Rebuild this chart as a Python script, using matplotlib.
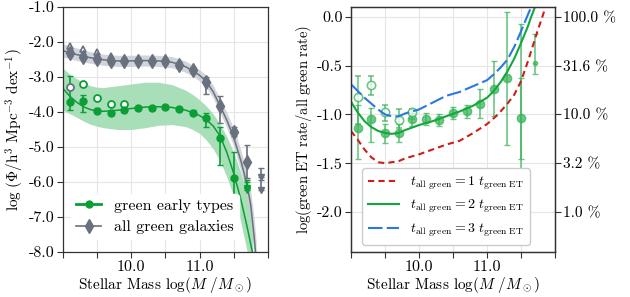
import numpy as np
import matplotlib
matplotlib.use("Agg")
import matplotlib.pyplot as plt
from matplotlib.lines import Line2D

plt.rcParams['font.family'] = 'serif'
plt.rcParams['font.serif'] = ['cmr10', 'DejaVu Serif']
plt.rcParams['mathtext.fontset'] = 'cm'
plt.rcParams['axes.unicode_minus'] = False
plt.rcParams['font.size'] = 10

# ---- left panel: mass functions ----
mass = [9.1, 9.3, 9.5, 9.7, 9.9, 10.1, 10.3, 10.5, 10.7, 10.9, 11.1, 11.3, 11.5, 11.7]
all_phi = [-2.32, -2.42, -2.49, -2.54, -2.54, -2.53, -2.53, -2.55, -2.65, -2.80, -3.13, -3.84, -4.56, -5.42]
all_lo = [-2.40, -2.50, -2.57, -2.62, -2.61, -2.60, -2.60, -2.63, -2.74, -2.90, -3.48, -4.32, -4.68, -5.90]
all_hi = [-2.24, -2.34, -2.41, -2.46, -2.47, -2.46, -2.46, -2.48, -2.57, -2.71, -3.01, -3.55, -4.42, -4.94]
all_open_m = [9.1, 9.3, 9.5, 9.7]
all_open_phi = [-2.11, -2.20, -2.29, -2.39]
all_lim_m = [11.9, 11.9]
all_lim_top = [-5.61, -5.94]
all_lim_bot = [-5.85, -6.23]

et_phi = [-3.72, -3.70, -3.96, -4.02, -3.94, -3.88, -3.89, -3.85, -3.92, -4.02, -4.18, -4.75, -5.89]
et_lo = [-3.94, -4.00, -4.03, -4.08, -4.00, -3.94, -3.95, -3.91, -3.98, -4.09, -4.42, -5.51, -7.37]
et_hi = [-2.96, -3.52, -3.89, -3.96, -3.88, -3.82, -3.83, -3.79, -3.86, -3.95, -4.03, -4.43, -5.13]
et_open_m = [9.1, 9.3, 9.5, 9.7, 9.9]
et_open_phi = [-3.28, -3.21, -3.61, -3.77, -3.77]
et_lim_m = [11.7, 11.7]
et_lim_top = [-5.94, -6.00]
et_lim_bot = [-6.18, -6.22]

fit_all_m = [9.0, 9.2, 9.4, 9.6, 9.8, 10.0, 10.2, 10.4, 10.6, 10.7, 10.8, 10.9, 11.0, 11.1, 11.2, 11.3,
             11.4, 11.5, 11.6, 11.65, 11.7, 11.75, 11.8, 11.83]
fit_all = [-2.25, -2.36, -2.45, -2.51, -2.54, -2.54, -2.53, -2.54, -2.58, -2.64, -2.71, -2.82, -2.95,
           -3.13, -3.42, -3.82, -4.23, -4.72, -5.35, -5.72, -6.12, -6.65, -7.55, -8.2]
fit_all_lo = [-2.43, -2.53, -2.61, -2.67, -2.70, -2.70, -2.69, -2.70, -2.74, -2.80, -2.87, -2.98, -3.11,
              -3.30, -3.60, -4.02, -4.45, -4.98, -5.65, -6.05, -6.50, -7.10, -8.1, -8.6]
fit_all_hi = [-2.05, -2.17, -2.28, -2.35, -2.38, -2.38, -2.37, -2.38, -2.42, -2.48, -2.55, -2.66, -2.79,
              -2.96, -3.24, -3.62, -4.01, -4.46, -5.05, -5.40, -5.78, -6.25, -7.05, -7.7]

fit_et_m = [9.0, 9.1, 9.2, 9.3, 9.4, 9.5, 9.6, 9.8, 10.0, 10.2, 10.4, 10.6, 10.8, 10.9, 11.0, 11.1,
            11.2, 11.3, 11.4, 11.5, 11.6, 11.7, 11.78]
fit_et = [-3.33, -3.55, -3.72, -3.85, -3.93, -3.97, -3.98, -3.95, -3.90, -3.86, -3.85, -3.87, -3.95,
          -4.02, -4.10, -4.22, -4.40, -4.68, -5.15, -5.75, -6.45, -7.30, -8.05]
fit_et_lo = [-3.95, -4.05, -4.15, -4.26, -4.35, -4.41, -4.45, -4.50, -4.50, -4.45, -4.38, -4.36, -4.42,
             -4.50, -4.61, -4.80, -5.05, -5.40, -5.85, -6.40, -7.10, -8.0, -8.6]
fit_et_hi = [-2.75, -2.92, -3.05, -3.16, -3.25, -3.29, -3.30, -3.25, -3.20, -3.15, -3.15, -3.22, -3.38,
             -3.50, -3.65, -3.83, -4.05, -4.35, -4.70, -5.15, -5.70, -6.40, -7.15]

# ---- right panel: rate ratios ----
r_mass = [9.1, 9.3, 9.5, 9.7, 9.9, 10.1, 10.3, 10.5, 10.7, 10.9, 11.1, 11.3, 11.5]
r_val = [-1.14, -1.05, -1.19, -1.19, -1.05, -1.05, -1.06, -0.99, -0.97, -0.89, -0.74, -0.63, -1.04]
r_lo = [-1.46, -1.28, -1.29, -1.28, -1.12, -1.11, -1.12, -1.05, -1.04, -1.04, -1.02, -1.31, -2.00]
r_hi = [-0.90, -0.93, -1.10, -1.10, -0.99, -0.99, -1.00, -0.92, -0.90, -0.74, -0.45, 0.05, -0.07]
r_open_m = [9.1, 9.3, 9.5, 9.7, 9.9]
r_open = [-0.82, -0.70, -0.98, -1.06, -0.98]
r_open_lo = [-1.10, -0.80, -1.07, -1.14, -1.05]
r_open_hi = [-0.61, -0.61, -0.90, -0.95, -0.94]
r_last_m = [11.7]
r_last = [-0.47]
r_last_lo = [-0.59]
r_last_hi = [-0.18]
r_extra_m = [11.5]
r_extra_lo = [-1.46]
r_extra_hi = [-0.63]

curve_m = [9.0, 9.1, 9.2, 9.3, 9.4, 9.5, 9.6, 9.7, 9.8, 10.0, 10.2, 10.4, 10.6, 10.8, 11.0, 11.1, 11.2,
           11.3, 11.4, 11.5, 11.6, 11.65, 11.7, 11.75, 11.8, 11.87]
curve_1 = [-1.17, -1.26, -1.36, -1.44, -1.49, -1.50, -1.49, -1.48, -1.45, -1.41, -1.36, -1.31, -1.27,
           -1.19, -1.10, -1.04, -0.97, -0.89, -0.80, -0.66, -0.46, -0.35, -0.24, -0.13, -0.03, 0.12]
curve_2 = [-0.87, -0.98, -1.07, -1.13, -1.17, -1.19, -1.20, -1.19, -1.16, -1.11, -1.07, -1.02, -0.97,
           -0.91, -0.83, -0.76, -0.67, -0.56, -0.43, -0.27, -0.10, 0.00, 0.09, 0.2, 0.3, 0.4]
curve_3 = [-0.69, -0.76, -0.83, -0.89, -0.95, -1.00, -1.02, -1.02, -0.99, -0.95, -0.88, -0.81, -0.77,
           -0.71, -0.65, -0.59, -0.52, -0.44, -0.31, -0.15, 0.02, 0.1, 0.2, 0.3, 0.4, 0.5]
pct_ticks = [0.0, -0.5, -1.0, -1.5, -2.0]
pct_labels = ['100.0 %', '31.6 %', '10.0 %', '3.2 %', '1.0 %']

green = '#0a9e35'
grey = '#68717d'
ptgreen = '#3cb55c'

fig = plt.figure(figsize=(6.3, 2.97), dpi=100)
ax1 = fig.add_axes([0.1, 0.1515, 0.325, 0.825])
ax2 = fig.add_axes([0.557, 0.1515, 0.324, 0.825])

for ax in (ax1, ax2):
    ax.set_xlim(9.0, 12.0)
    ax.set_xticks([9.0, 9.5, 10.0, 10.5, 11.0, 11.5, 12.0])
    ax.set_xticklabels(['', '', '10.0', '', '11.0', '', ''])
    ax.grid(True, color='#e6e6e6', lw=0.8)
    ax.set_axisbelow(True)
    for s in ax.spines.values():
        s.set_color('#333333')
        s.set_linewidth(0.9)
    ax.tick_params(direction='out', length=4, color='#333333', labelsize=11.5, pad=2)
    ax.set_xlabel(r'Stellar Mass $\log(M\ /M_\odot)$', fontsize=11, labelpad=1)

# left
ax1.fill_between(fit_et_m, fit_et_lo, fit_et_hi, color='#a8dfb8', lw=0, zorder=1)
ax1.fill_between(fit_all_m, fit_all_lo, fit_all_hi, color='#c9cdd4', alpha=0.85, lw=0, zorder=1.5)
ax1.plot(fit_et_m, fit_et, color=green, lw=1.1, zorder=2)
ax1.plot(fit_all_m, fit_all, color=grey, lw=1.1, zorder=2)

am = np.array(mass)
ap = np.array(all_phi)
ax1.errorbar(am, ap, yerr=[ap - np.array(all_lo), np.array(all_hi) - ap], fmt='d', color=grey,
             ms=7, capsize=2, lw=1.2, zorder=3)
ax1.plot(all_open_m, all_open_phi, '^', mfc='white', mec=grey, ms=5, mew=1.2, zorder=3)
for m, t, b in zip(all_lim_m, all_lim_top, all_lim_bot):
    ax1.errorbar([m], [t], yerr=[[t - b], [0]], fmt='none', color=grey, capsize=2, lw=1.2, zorder=3)
    ax1.plot([m], [b], 'v', color=grey, ms=5, zorder=3)

em = am[:len(et_phi)]
ep = np.array(et_phi)
ax1.errorbar(em, ep, yerr=[ep - np.array(et_lo), np.array(et_hi) - ep], fmt='o', color=green,
             ms=5, capsize=2, lw=1.2, zorder=4)
ax1.plot(et_open_m[:1], et_open_phi[:1], 'o', mfc='white', mec=grey, ms=5, mew=1.3, zorder=4)
ax1.plot(et_open_m[1:], et_open_phi[1:], 'o', mfc='white', mec=green, ms=5, mew=1.3, zorder=4)
for m, t, b in zip(et_lim_m, et_lim_top, et_lim_bot):
    ax1.errorbar([m], [t], yerr=[[t - b], [0]], fmt='none', color=green, capsize=2, lw=1.2, zorder=4)
    ax1.plot([m], [b], 'v', color=green, ms=5, zorder=4)

ax1.set_ylim(-8.0, -1.0)
ax1.set_yticks([-1, -2, -3, -4, -5, -6, -7, -8])
ax1.set_yticklabels(['-1.0', '-2.0', '-3.0', '-4.0', '-5.0', '-6.0', '-7.0', '-8.0'])
ax1.set_ylabel(r'$\log\,(\Phi/\mathrm{h}^3\ \mathrm{Mpc}^{-3}\ \mathrm{dex}^{-1})$', fontsize=11, labelpad=2)

h1 = Line2D([], [], color=green, marker='o', ms=5, lw=2)
h2 = Line2D([], [], color=grey, marker='d', ms=7, lw=1.2)
leg1 = ax1.legend([h1, h2], ['green early types', 'all green galaxies'], loc='lower left',
                  bbox_to_anchor=(0.0, 0.02), fontsize=11.5, frameon=True, framealpha=1,
                  handlelength=1.6, borderpad=0.3, labelspacing=0.45)
leg1.get_frame().set_edgecolor('white')

# right
rm = np.array(r_mass)
rv = np.array(r_val)
ax2.errorbar(rm, rv, yerr=[rv - np.array(r_lo), np.array(r_hi) - rv], fmt='o', color=ptgreen,
             alpha=0.75, ms=6, capsize=2, lw=1.2, zorder=3)
om = np.array(r_open_m)
ov = np.array(r_open)
ax2.errorbar(om, ov, yerr=[ov - np.array(r_open_lo), np.array(r_open_hi) - ov], fmt='o', color=ptgreen,
             mfc='white', alpha=0.75, ms=6, mew=1.2, capsize=2, lw=1.2, zorder=3)
lv = np.array(r_last)
ax2.errorbar(r_last_m, lv, yerr=[lv - np.array(r_last_lo), np.array(r_last_hi) - lv], fmt='o',
             color=ptgreen, alpha=0.75, ms=3, capsize=2, lw=1.2, zorder=3)
for m, lo, hi in zip(r_extra_m, r_extra_lo, r_extra_hi):
    ax2.errorbar([m], [(lo + hi) / 2], yerr=[[(hi - lo) / 2]], fmt='none', color=ptgreen,
                 alpha=0.75, capsize=2, lw=1.2, zorder=3)

ax2.plot(curve_m, curve_1, color='#cc1f1a', lw=1.5, dashes=(3, 2), zorder=4,
         label=r'$t_{\rm all\ green} = 1\ t_{\rm green\ ET}$')
ax2.plot(curve_m, curve_2, color='#14a83c', lw=1.5, zorder=4,
         label=r'$t_{\rm all\ green} = 2\ t_{\rm green\ ET}$')
ax2.plot(curve_m, curve_3, color='#2a78e0', lw=1.5, dashes=(7, 2), zorder=4,
         label=r'$t_{\rm all\ green} = 3\ t_{\rm green\ ET}$')

ax2.set_ylim(-2.41, 0.1)
ax2.set_yticks([0.0, -0.5, -1.0, -1.5, -2.0])
ax2.set_yticklabels(['0.0', '-0.5', '-1.0', '-1.5', '-2.0'])
ax2.set_ylabel(r'$\log(\mathrm{green\ ET\ rate/all\ green\ rate})$', fontsize=10.5, labelpad=2)
leg2 = ax2.legend(loc='lower left', bbox_to_anchor=(0.02, 0.0), fontsize=10, frameon=True,
                  framealpha=1, handlelength=2.2, borderpad=0.45, labelspacing=0.45,
                  borderaxespad=0.5)
leg2.get_frame().set_edgecolor('#cccccc')

ax3 = ax2.twinx()
ax3.set_ylim(ax2.get_ylim())
ax3.set_yticks(pct_ticks)
ax3.set_yticklabels(pct_labels)
ax3.tick_params(direction='out', length=4, color='#333333', labelsize=11, pad=2)
for s in ax3.spines.values():
    s.set_color('#333333')
    s.set_linewidth(0.9)

fig.savefig('out.png', dpi=100)
